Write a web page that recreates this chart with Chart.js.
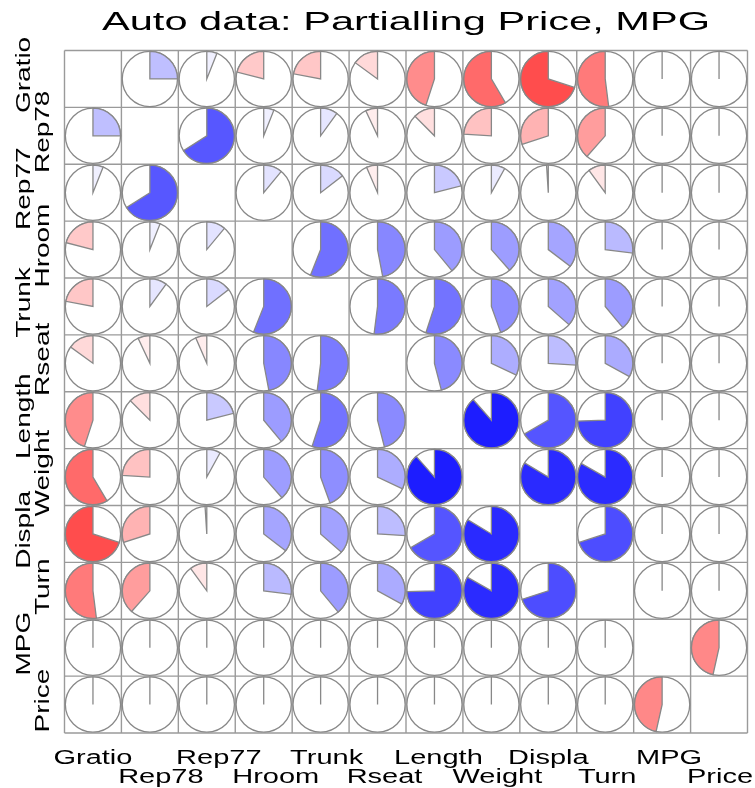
<!DOCTYPE html>
<html><head><meta charset="utf-8">
<script src="https://cdn.jsdelivr.net/npm/chart.js@4"></script>
<style>html,body{margin:0;padding:0;background:#fff;overflow:hidden}</style>
</head><body>
<canvas id="c" width="755" height="788"></canvas>
<script>
const titleText = 'Auto data: Partialling Price, MPG';
const variables = ['Gratio','Rep78','Rep77','Hroom','Trunk','Rseat','Length','Weight','Displa','Turn','MPG','Price'];
// partial correlations (controlling Price, MPG), one row per variable
const rowGratio = [1, 0.25, 0.06, -0.21, -0.22, -0.15, -0.45, -0.585, -0.70, -0.52, 0, 0];
const rowRep78  = [0.25, 1, 0.66, 0.06, 0.10, -0.07, -0.125, -0.24, -0.30, -0.385, 0, 0];
const rowRep77  = [0.06, 0.66, 1, 0.11, 0.145, -0.065, 0.21, 0.08, -0.01, -0.10, 0, 0];
const rowHroom  = [-0.21, 0.06, 0.11, 1, 0.56, 0.47, 0.39, 0.385, 0.354, 0.27, 0, 0];
const rowTrunk  = [-0.22, 0.10, 0.145, 0.56, 1, 0.52, 0.55, 0.445, 0.365, 0.39, 0, 0];
const rowRseat  = [-0.15, -0.07, -0.065, 0.47, 0.52, 1, 0.46, 0.32, 0.26, 0.33, 0, 0];
const rowLength = [-0.45, -0.125, 0.21, 0.39, 0.55, 0.46, 1, 0.885, 0.667, 0.745, 0, 0];
const rowWeight = [-0.585, -0.24, 0.08, 0.385, 0.445, 0.32, 0.885, 1, 0.836, 0.832, 0, 0];
const rowDispla = [-0.70, -0.30, -0.01, 0.354, 0.365, 0.26, 0.667, 0.836, 1, 0.70, 0, 0];
const rowTurn   = [-0.52, -0.385, -0.10, 0.27, 0.39, 0.33, 0.745, 0.832, 0.70, 1, 0, 0];
const rowMPG    = [0, 0, 0, 0, 0, 0, 0, 0, 0, 0, 1, -0.465];
const rowPrice  = [0, 0, 0, 0, 0, 0, 0, 0, 0, 0, -0.465, 1];
const corrRows = [rowGratio,rowRep78,rowRep77,rowHroom,rowTrunk,rowRseat,rowLength,rowWeight,rowDispla,rowTurn,rowMPG,rowPrice];

// style: small horizontal nudges of the bottom labels (px)
const labelNudgeX = [0, 11, 12, 12, 6, 7, 4, 6, 0, 2, 7, 1];

const n = variables.length;
const points = [];
corrRows.forEach((row,i)=>row.forEach((r,j)=>{ if(i!==j) points.push({x:j+0.5,y:i+0.5,r:r}); }));

function corrColor(r){
  const v = Math.round(255*(1-Math.abs(r)));
  return r>=0 ? `rgb(${v},${v},255)` : `rgb(255,${v},${v})`;
}

const FONT = '"Liberation Sans", Arial, sans-serif';
const corrgram = {
  id:'corrgram',
  beforeDatasetsDraw(chart){
    const ctx = chart.ctx, xs = chart.scales.x, ys = chart.scales.y;
    ctx.save();
    ctx.strokeStyle = '#9a9a9a'; ctx.lineWidth = 1.4;
    for(let k=0;k<=n;k++){
      const px = xs.getPixelForValue(k), py = ys.getPixelForValue(k);
      ctx.beginPath(); ctx.moveTo(px, ys.getPixelForValue(0)); ctx.lineTo(px, ys.getPixelForValue(n)); ctx.stroke();
      ctx.beginPath(); ctx.moveTo(xs.getPixelForValue(0), py); ctx.lineTo(xs.getPixelForValue(n), py); ctx.stroke();
    }
    ctx.restore();
  },
  afterDatasetsDraw(chart){
    const ctx = chart.ctx, xs = chart.scales.x;
    const meta = chart.getDatasetMeta(0);
    const rad = xs.getPixelForValue(0.485) - xs.getPixelForValue(0);
    ctx.save();
    ctx.lineWidth = 1.3; ctx.strokeStyle = '#888888';
    meta.data.forEach((el,idx)=>{
      const r = chart.data.datasets[0].data[idx].r;
      const cx = el.x, cy = el.y;
      ctx.beginPath(); ctx.arc(cx,cy,rad,0,2*Math.PI); ctx.fillStyle='#fff'; ctx.fill(); ctx.stroke();
      const a0 = -Math.PI/2, a1 = a0 + (r>=0?1:-1)*2*Math.PI*Math.abs(r);
      ctx.beginPath(); ctx.moveTo(cx,cy); ctx.lineTo(cx, cy-rad);
      if(Math.abs(r)>0) ctx.arc(cx,cy,rad,a0,a1,r<0);
      ctx.closePath();
      ctx.fillStyle = corrColor(r); ctx.fill(); ctx.stroke();
    });
    ctx.restore();
  },
  afterDraw(chart){
    const ctx = chart.ctx, xs = chart.scales.x, ys = chart.scales.y, ca = chart.chartArea;
    ctx.save();
    ctx.fillStyle = '#000'; ctx.textAlign='center'; ctx.textBaseline='alphabetic';
    // title
    ctx.font = `26px ${FONT}`;
    ctx.save(); ctx.translate((ca.left+ca.right)/2, 30); ctx.scale(1.6,1); ctx.fillText(titleText,0,0); ctx.restore();
    ctx.font = `20px ${FONT}`;
    variables.forEach((v,i)=>{
      const px = xs.getPixelForValue(i+0.5) + labelNudgeX[i];
      ctx.save(); ctx.translate(px, ca.bottom + (i%2===0?31:50)); ctx.scale(1.45,1); ctx.fillText(v,0,0); ctx.restore();
      const py = ys.getPixelForValue(i+0.5) - 4;
      ctx.save(); ctx.translate(i%2===0?30:49, py); ctx.rotate(-Math.PI/2); ctx.scale(1.4,1); ctx.fillText(v,0,0); ctx.restore();
    });
    ctx.restore();
  }
};

new Chart(document.getElementById('c'), {
  type:'scatter',
  data:{ datasets:[{ data: points, pointRadius:0, pointHoverRadius:0 }] },
  options:{
    responsive:false, animation:false, devicePixelRatio:1,
    layout:{ padding:{ left:64.5, right:7.5, top:50.5, bottom:55 } },
    plugins:{ legend:{display:false}, tooltip:{enabled:false}, title:{display:false} },
    scales:{
      x:{ type:'linear', min:0, max:n, display:false },
      y:{ type:'linear', min:0, max:n, reverse:true, display:false }
    }
  },
  plugins:[corrgram]
});
</script>
</body></html>
